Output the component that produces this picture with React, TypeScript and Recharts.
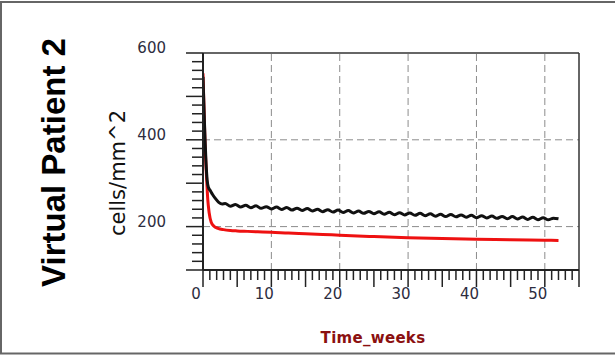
import React from 'react';
import { LineChart, Line, XAxis, YAxis, ReferenceLine } from 'recharts';

// red curve (lower one)
const RED_TIME = [0, 0.15, 0.3, 0.5, 0.7, 0.9, 1.2, 1.6, 2.2, 3, 4, 5, 6.5, 8, 10, 12.5, 15, 17.5, 20, 25, 30, 35, 40, 45, 50, 52];
const RED_VALUES = [553, 470, 390, 320, 262, 232, 210, 201, 196, 193, 191, 190, 189, 188, 187, 185, 183.5, 182, 180, 177, 174.5, 172.5, 171, 169.5, 168.5, 168];

// black curve (upper one, wavy)
const BLACK_TIME = [
  0, 0.15, 0.3, 0.45, 0.6, 0.8, 1.1, 1.4, 1.8, 2.3, 2.8,
  3.25, 4, 4.75, 5.5, 6.25, 7, 7.75, 8.5, 9.25, 10, 10.75, 11.5, 12.25, 13, 13.75, 14.5,
  15.25, 16, 16.75, 17.5, 18.25, 19, 19.75, 20.5, 21.25, 22, 22.75, 23.5, 24.25, 25,
  25.75, 26.5, 27.25, 28, 28.75, 29.5, 30.25, 31, 31.75, 32.5, 33.25, 34, 34.75, 35.5,
  36.25, 37, 37.75, 38.5, 39.25, 40, 40.75, 41.5, 42.25, 43, 43.75, 44.5, 45.25, 46,
  46.75, 47.5, 48.25, 49, 49.75, 50.5, 51.25, 52,
];
const BLACK_VALUES = [
  545, 470, 400, 345, 308, 290, 282, 274, 265, 256, 252,
  253, 247, 251, 245, 249, 243.5, 248, 242, 246, 240.5, 245, 239.5, 244, 238, 242.5, 237,
  241.5, 236, 240, 234.5, 239, 233.5, 238, 232.5, 237, 231.5, 236, 230.5, 235, 229.5,
  234, 228.5, 233, 227.5, 232, 227, 231.5, 226, 230.5, 225, 229.5, 224, 228.5, 223,
  228, 222.5, 227, 221.5, 226, 220.5, 225, 220, 224.5, 219, 223.5, 218, 223, 217.5,
  222, 216.5, 221.5, 216, 220.5, 215.5, 219.5, 218,
];

const X_LABELS = [0, 10, 20, 30, 40, 50];
const Y_LABELS = [200, 400, 600];
const X_GRID = [10, 20, 30, 40, 50];
const Y_GRID = [200, 400];

// one tick every week / every 20 cells
const X_TICKS = Array.from({ length: 56 }, (_, i) => i);
const Y_TICKS = Array.from({ length: 26 }, (_, i) => 100 + i * 20);

const redData = RED_TIME.map((t, i) => ({ t, v: RED_VALUES[i] }));
const blackData = BLACK_TIME.map((t, i) => ({ t, v: BLACK_VALUES[i] }));

const TICK_FONT = '"DejaVu Sans", Verdana, sans-serif';

const XTick = ({ x, y, payload }: any) => {
  const v = payload.value;
  const major = v % 5 === 0;
  return (
    <g>
      <line x1={x} y1={y} x2={x} y2={y + (major ? 17 : 10)} stroke="#222" strokeWidth={1.5} />
      {X_LABELS.includes(v) && (
        <text x={x - 7} y={y + 29} textAnchor="middle" fontSize={15} fontFamily={TICK_FONT} fill="#2d2d40">
          {v}
        </text>
      )}
    </g>
  );
};

const YTick = ({ x, y, payload }: any) => {
  const v = payload.value;
  const major = v % 100 === 0;
  return (
    <g>
      <line x1={x} y1={y} x2={x - (major ? 17 : 11)} y2={y} stroke="#222" strokeWidth={1.5} />
      {Y_LABELS.includes(v) && (
        <text x={x - 37} y={y} textAnchor="end" fontSize={15} fontFamily={TICK_FONT} fill="#2d2d40">
          {v}
        </text>
      )}
    </g>
  );
};

export default function App() {
  return (
    <div style={{ position: 'absolute', left: 0, top: 0, width: 615, height: 355, background: '#fff' }}>
      <LineChart width={615} height={355} margin={{ top: 53, right: 36, bottom: 84, left: 202 }}>
        <XAxis
          dataKey="t"
          type="number"
          domain={[0, 55]}
          ticks={X_TICKS}
          interval={0}
          height={1}
          tickSize={0}
          tickMargin={0}
          tick={<XTick />}
          axisLine={{ stroke: '#222', strokeWidth: 2 }}
          allowDataOverflow
        />
        <YAxis
          type="number"
          domain={[100, 600]}
          ticks={Y_TICKS}
          interval={0}
          width={1}
          tickSize={0}
          tickMargin={0}
          tick={<YTick />}
          axisLine={{ stroke: '#222', strokeWidth: 2 }}
          allowDataOverflow
        />
        {X_GRID.map((v) => (
          <ReferenceLine key={'gx' + v} x={v} stroke="#8c8c8c" strokeDasharray="7 4" />
        ))}
        {Y_GRID.map((v) => (
          <ReferenceLine key={'gy' + v} y={v} stroke="#8c8c8c" strokeDasharray="7 4" />
        ))}
        {/* frame: top and right */}
        <ReferenceLine y={600} stroke="#333" strokeWidth={1.5} />
        <ReferenceLine x={55} stroke="#333" strokeWidth={1.5} />
        <Line data={redData} dataKey="v" type="monotone" stroke="#ee1111" strokeWidth={3} dot={false} isAnimationActive={false} />
        <Line data={blackData} dataKey="v" type="monotone" stroke="#111" strokeWidth={3} dot={false} isAnimationActive={false} />
      </LineChart>

      {/* titles and outer frame */}
      <svg width={615} height={355} style={{ position: 'absolute', left: 0, top: 0, pointerEvents: 'none' }}>
        <line x1={1} y1={2} x2={1} y2={354} stroke="#666" strokeWidth={2} />
        <line x1={0} y1={2} x2={615} y2={2} stroke="#666" strokeWidth={2} />
        <line x1={0} y1={353.5} x2={615} y2={353.5} stroke="#666" strokeWidth={2} />
        <text
          x={65} y={162.5} transform="rotate(-90 65 162.5)" textAnchor="middle"
          fontSize={33} fontWeight="bold" fontFamily='"Liberation Sans", Arial, sans-serif' fill="#000"
        >
          Virtual Patient 2
        </text>
        <text
          x={125} y={173} transform="rotate(-90 125 173)" textAnchor="middle"
          fontSize={21} fontFamily={TICK_FONT} fill="#111"
        >
          cells/mm^2
        </text>
        <text
          x={373} y={343} textAnchor="middle" fontSize={15} fontWeight="bold" letterSpacing={0.3}
          fontFamily={TICK_FONT} fill="#8b1010"
        >
          Time_weeks
        </text>
      </svg>
    </div>
  );
}
